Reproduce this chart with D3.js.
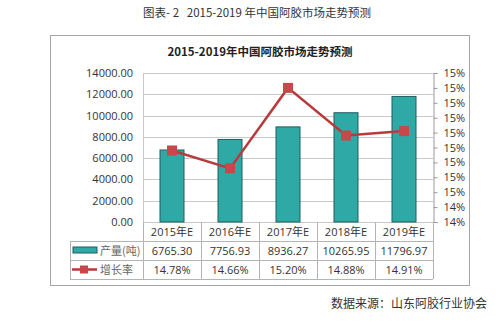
<!DOCTYPE html>
<html>
<head>
<meta charset="utf-8">
<script src="https://cdn.jsdelivr.net/npm/d3@7"></script>
<style>
  body { margin: 0; background: #fff; }
  text { font-family: "Noto Sans CJK SC", "Noto Sans", sans-serif; }
</style>
</head>
<body>
<div id="chart"></div>
<script>
// chart data
const years = ['2015年E', '2016年E', '2017年E', '2018年E', '2019年E'];
const output = [6765.30, 7756.93, 8936.27, 10265.95, 11796.97];
const growth = [14.78, 14.66, 15.20, 14.88, 14.91];
const leftTicks = [0, 2000, 4000, 6000, 8000, 10000, 12000, 14000];
const rightTicks = [14.3, 14.4, 14.5, 14.6, 14.7, 14.8, 14.9, 15.0, 15.1, 15.2, 15.3];

const W = 499, H = 322;
const svg = d3.select('#chart').append('svg')
    .attr('width', W).attr('height', H);

// page title
svg.append('text')
    .attr('x', 257).attr('y', 17)
    .attr('text-anchor', 'middle')
    .attr('font-size', 11.5).attr('fill', '#333')
    .style('white-space', 'pre')
    .text('图表- 2   2015-2019 年中国阿胶市场走势预测');

// frame
svg.append('rect')
    .attr('x', 50.5).attr('y', 35.5).attr('width', 419).attr('height', 250)
    .attr('fill', '#fff').attr('stroke', '#a6a6a6');

svg.append('text')
    .attr('x', 260).attr('y', 56)
    .attr('text-anchor', 'middle')
    .attr('font-size', 11.5).attr('font-weight', 'bold').attr('fill', '#222')
    .text('2015-2019年中国阿胶市场走势预测');

const plot = {left: 143, right: 433, top: 73, bottom: 222};

const x = d3.scaleBand().domain(years).range([plot.left, plot.right]);
const y = d3.scaleLinear().domain([0, 14000]).range([plot.bottom, plot.top]);
const y2 = d3.scaleLinear().domain([14.3, 15.3]).range([plot.bottom, plot.top]);

// grid
svg.append('g').selectAll('line').data(leftTicks).join('line')
    .attr('x1', plot.left).attr('x2', plot.right)
    .attr('y1', d => Math.round(y(d)) + 0.5).attr('y2', d => Math.round(y(d)) + 0.5)
    .attr('stroke', '#c8c8c8');

svg.append('line')
    .attr('x1', plot.left + 0.5).attr('x2', plot.left + 0.5)
    .attr('y1', plot.top).attr('y2', plot.bottom)
    .attr('stroke', '#c8c8c8');

// left axis
const leftAxis = svg.append('g')
    .attr('transform', `translate(${plot.left},0)`)
    .call(d3.axisLeft(y).tickValues(leftTicks).tickFormat(d3.format('.2f')).tickSize(0).tickPadding(10));
leftAxis.select('.domain').remove();
leftAxis.selectAll('text').attr('font-size', 11).attr('fill', '#333')
    .style('font-family', '"Open Sans", "Noto Sans", sans-serif');

// right axis
const rightAxis = svg.append('g')
    .attr('transform', `translate(${plot.right + 0.5},0)`)
    .call(d3.axisRight(y2).tickValues(rightTicks).tickFormat(d => Math.round(d + 1e-9) + '%').tickSize(4).tickPadding(6));
rightAxis.select('.domain').attr('stroke', '#999');
rightAxis.selectAll('line').attr('stroke', '#999');
rightAxis.selectAll('text').attr('font-size', 11).attr('fill', '#333')
    .style('font-family', '"Open Sans", "Noto Sans", sans-serif');

// bars
const bw = 24;
svg.append('g').selectAll('rect').data(output).join('rect')
    .attr('x', (d, i) => x(years[i]) + x.bandwidth() / 2 - bw / 2)
    .attr('y', d => y(d))
    .attr('width', bw)
    .attr('height', d => plot.bottom - y(d))
    .attr('fill', '#2fa9a6')
    .attr('stroke', '#1f5f5d').attr('stroke-width', 1);

// growth line
const line = d3.line()
    .x((d, i) => x(years[i]) + x.bandwidth() / 2)
    .y(d => y2(d));
svg.append('path').datum(growth)
    .attr('d', line).attr('fill', 'none')
    .attr('stroke', '#b73a3c').attr('stroke-width', 2.5);
svg.append('g').selectAll('rect').data(growth).join('rect')
    .attr('x', (d, i) => x(years[i]) + x.bandwidth() / 2 - 5)
    .attr('y', d => y2(d) - 5)
    .attr('width', 10).attr('height', 10)
    .attr('fill', '#c8474a');

// data table
const rowY = [plot.bottom, 241, 260, 279];
const tableLeft = 70;
const tg = svg.append('g').attr('stroke', '#b4b4b4').attr('shape-rendering', 'crispEdges');
rowY.slice(1).forEach(yy => {
    tg.append('line').attr('x1', tableLeft).attr('x2', plot.right).attr('y1', yy + 0.5).attr('y2', yy + 0.5);
});
tg.append('line').attr('x1', tableLeft + 0.5).attr('x2', tableLeft + 0.5).attr('y1', rowY[1]).attr('y2', rowY[3]);
years.forEach(c => {
    tg.append('line').attr('x1', x(c) + 0.5).attr('x2', x(c) + 0.5).attr('y1', plot.bottom).attr('y2', rowY[3]);
});
tg.append('line').attr('x1', plot.right + 0.5).attr('x2', plot.right + 0.5).attr('y1', plot.bottom).attr('y2', rowY[3]);

const cellFont = '"Open Sans", "Noto Sans CJK SC", sans-serif';
svg.append('g').selectAll('text').data(years).join('text')
    .attr('x', d => x(d) + x.bandwidth() / 2).attr('y', rowY[0] + 14)
    .attr('text-anchor', 'middle').attr('font-size', 11).attr('fill', '#333')
    .style('font-family', cellFont)
    .text(d => d);
svg.append('g').selectAll('text').data(output).join('text')
    .attr('x', (d, i) => x(years[i]) + x.bandwidth() / 2).attr('y', rowY[1] + 14)
    .attr('text-anchor', 'middle').attr('font-size', 11).attr('fill', '#333')
    .style('font-family', cellFont)
    .text(d => d.toFixed(2));
svg.append('g').selectAll('text').data(growth).join('text')
    .attr('x', (d, i) => x(years[i]) + x.bandwidth() / 2).attr('y', rowY[2] + 14)
    .attr('text-anchor', 'middle').attr('font-size', 11).attr('fill', '#333')
    .style('font-family', cellFont)
    .text(d => d.toFixed(2) + '%');

// legend keys in the table
svg.append('rect')
    .attr('x', 73).attr('y', 247).attr('width', 24).attr('height', 6)
    .attr('fill', '#2fa9a6').attr('stroke', '#1f5f5d');
svg.append('text')
    .attr('x', 100).attr('y', 255).attr('font-size', 11).attr('fill', '#666')
    .text('产量(吨)');
svg.append('line')
    .attr('x1', 72).attr('x2', 97).attr('y1', 269.5).attr('y2', 269.5)
    .attr('stroke', '#b73a3c').attr('stroke-width', 2.5);
svg.append('rect')
    .attr('x', 80).attr('y', 265.5).attr('width', 8).attr('height', 8)
    .attr('fill', '#c8474a');
svg.append('text')
    .attr('x', 100).attr('y', 274).attr('font-size', 11).attr('fill', '#666')
    .text('增长率');

// source note
svg.append('text')
    .attr('x', 487).attr('y', 308)
    .attr('text-anchor', 'end')
    .attr('font-size', 12).attr('fill', '#333')
    .text('数据来源：山东阿胶行业协会');
</script>
</body>
</html>
